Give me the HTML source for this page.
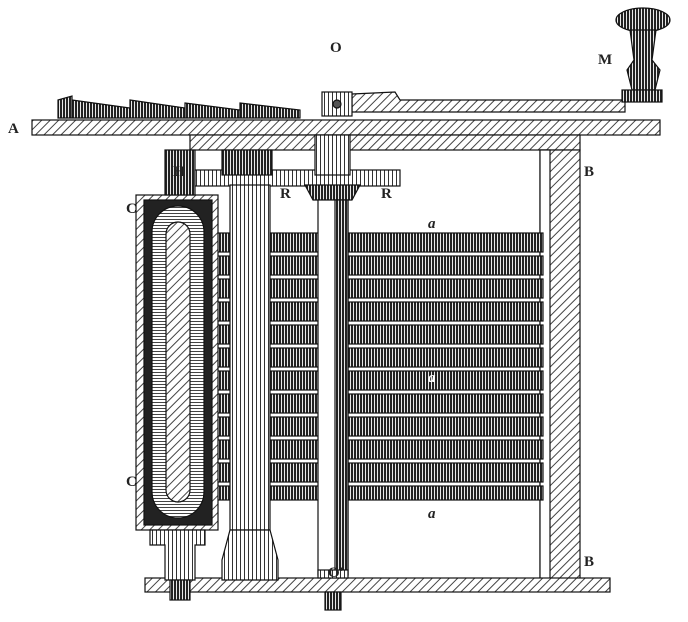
<!DOCTYPE html>
<html><head><meta charset="utf-8"><style>
html,body{margin:0;padding:0;background:#fff;}
svg{display:block}
text{font-family:"Liberation Serif",serif;font-weight:bold;fill:#222}
</style></head><body>
<svg width="688" height="622" viewBox="0 0 688 622" xmlns="http://www.w3.org/2000/svg">
<defs>
<pattern id="v" width="3" height="4" patternUnits="userSpaceOnUse"><rect width="3" height="4" fill="#fff"/><rect width="2.1" height="4" fill="#222"/></pattern>
<pattern id="vl" width="4" height="4" patternUnits="userSpaceOnUse"><rect width="4" height="4" fill="#fff"/><rect width="1" height="4" fill="#333"/></pattern>
<pattern id="d" width="6" height="6" patternUnits="userSpaceOnUse" patternTransform="rotate(45)"><rect width="6" height="6" fill="#fff"/><rect width="1" height="6" fill="#444"/></pattern>
<pattern id="h" width="4" height="3" patternUnits="userSpaceOnUse"><rect width="4" height="3" fill="#fff"/><rect width="4" height="1" fill="#444"/></pattern>
</defs>
<g stroke="#111" stroke-width="1.2">
<path d="M58 100 L72 96 L72 118 L58 118Z M72 100 L130 108 L130 118 L72 118Z M130 100 L185 108 L185 118 L130 118Z M185 103 L240 110 L240 118 L185 118Z M240 103 L300 110 L300 118 L240 118Z" fill="url(#v)"/>
<rect x="32" y="120" width="628" height="15" fill="url(#d)"/>
<rect x="190" y="135" width="390" height="15" fill="url(#d)"/>
<path d="M352 94 L395 92 L400 100 L625 100 L625 112 L352 112Z" fill="url(#d)"/>
<rect x="322" y="92" width="30" height="24" fill="url(#vl)"/>
<circle cx="337" cy="104" r="4" fill="#555"/>
<ellipse cx="643" cy="20" rx="27" ry="12" fill="url(#v)"/>
<path d="M630 30 L656 30 L652 60 L660 70 L655 90 L632 90 L627 70 L634 60Z" fill="url(#v)"/>
<rect x="622" y="90" width="40" height="12" fill="url(#v)"/>
<rect x="540" y="150" width="40" height="430" fill="url(#d)"/>
<rect x="540" y="150" width="10" height="430" fill="#fff"/>
<rect x="145" y="578" width="465" height="14" fill="url(#d)"/>
<g fill="url(#v)">
<rect x="215" y="233" width="328" height="19"/><rect x="215" y="256" width="328" height="19"/>
<rect x="215" y="279" width="328" height="19"/><rect x="215" y="302" width="328" height="19"/>
<rect x="215" y="325" width="328" height="19"/><rect x="215" y="348" width="328" height="19"/>
<rect x="215" y="371" width="328" height="19"/><rect x="215" y="394" width="328" height="19"/>
<rect x="215" y="417" width="328" height="19"/><rect x="215" y="440" width="328" height="19"/>
<rect x="215" y="463" width="328" height="19"/><rect x="215" y="486" width="328" height="14"/>
</g>
<rect x="136" y="195" width="82" height="335" fill="url(#d)"/>
<rect x="144" y="200" width="68" height="325" fill="#222"/>
<rect x="152" y="206" width="52" height="312" rx="26" fill="url(#h)"/>
<rect x="166" y="222" width="24" height="280" rx="12" fill="url(#d)"/>
<path d="M150 530 L205 530 L205 545 L195 545 L195 580 L165 580 L165 545 L150 545Z" fill="url(#vl)"/>
<rect x="170" y="580" width="20" height="20" fill="url(#v)"/>
<rect x="165" y="150" width="30" height="45" fill="url(#v)"/>
<rect x="195" y="170" width="205" height="16" fill="url(#vl)"/>
<rect x="222" y="150" width="50" height="25" fill="url(#v)"/>
<rect x="230" y="185" width="40" height="345" fill="url(#vl)"/>
<path d="M230 530 L270 530 L278 560 L278 580 L222 580 L222 560Z" fill="url(#vl)"/>
<rect x="315" y="135" width="35" height="40" fill="url(#vl)"/>
<path d="M305 185 L360 185 L352 200 L313 200Z" fill="url(#v)"/>
<rect x="318" y="200" width="30" height="375" fill="#fff"/>
<rect x="335" y="200" width="13" height="375" fill="url(#v)"/>
<rect x="318" y="570" width="30" height="8" fill="url(#vl)"/>
<rect x="325" y="592" width="16" height="18" fill="url(#v)"/>
</g>
<g font-size="15">
<text x="8" y="133">A</text>
<text x="598" y="64">M</text>
<text x="330" y="52">O</text>
<text x="584" y="176">B</text>
<text x="584" y="566">B</text>
<text x="173" y="176">H</text>
<text x="280" y="198">R</text>
<text x="381" y="198">R</text>
<text x="126" y="213">C</text>
<text x="126" y="486">C</text>
<text x="328" y="577">O'</text>
</g>
<g font-size="15" font-style="italic">
<text x="428" y="228">a</text>
<text x="428" y="382" style="fill:#fff">a</text>
<text x="428" y="518">a</text>
</g>
</svg>
</body></html>
